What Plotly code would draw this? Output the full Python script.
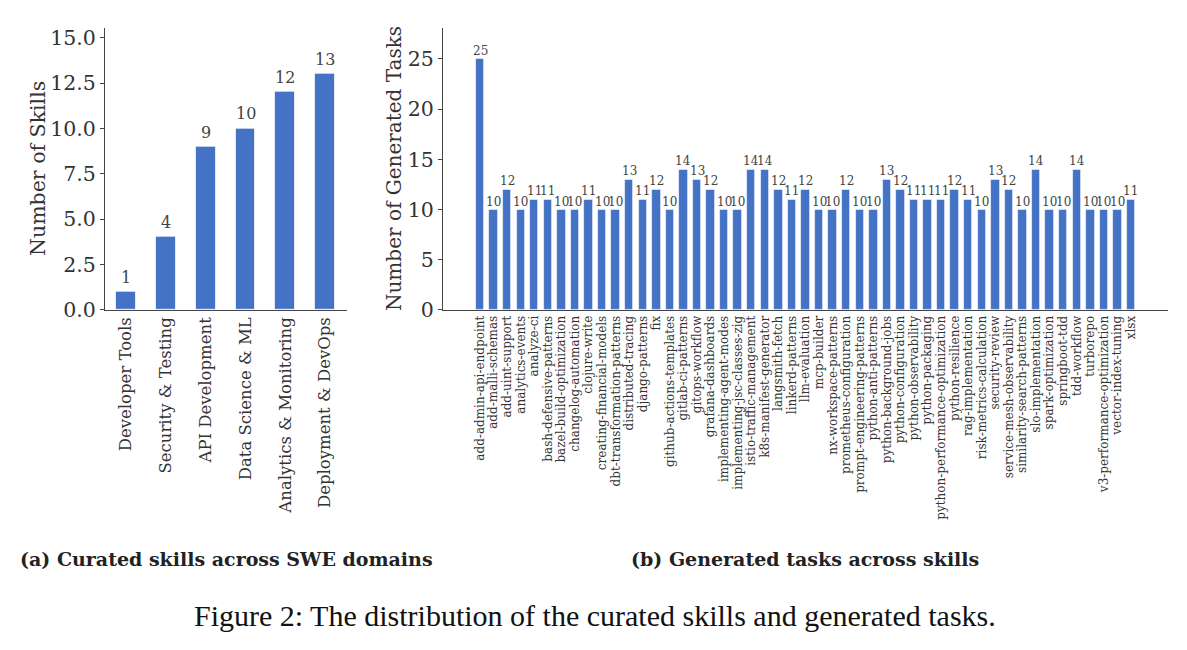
import plotly.graph_objects as go

# ---------------- data ----------------
domains = ["Developer Tools", "Security & Testing", "API Development",
           "Data Science & ML", "Analytics & Monitoring", "Deployment & DevOps"]
skill_counts = [1, 4, 9, 10, 12, 13]

skills = [
    "add-admin-api-endpoint", "add-malli-schemas", "add-uint-support", "analytics-events",
    "analyze-ci", "bash-defensive-patterns", "bazel-build-optimization", "changelog-automation",
    "clojure-write", "creating-financial-models", "dbt-transformation-patterns",
    "distributed-tracing", "django-patterns", "fix", "github-actions-templates",
    "gitlab-ci-patterns", "gitops-workflow", "grafana-dashboards", "implementing-agent-modes",
    "implementing-jsc-classes-zig", "istio-traffic-management", "k8s-manifest-generator",
    "langsmith-fetch", "linkerd-patterns", "llm-evaluation", "mcp-builder",
    "nx-workspace-patterns", "prometheus-configuration", "prompt-engineering-patterns",
    "python-anti-patterns", "python-background-jobs", "python-configuration",
    "python-observability", "python-packaging", "python-performance-optimization",
    "python-resilience", "rag-implementation", "risk-metrics-calculation", "security-review",
    "service-mesh-observability", "similarity-search-patterns", "slo-implementation",
    "spark-optimization", "springboot-tdd", "tdd-workflow", "turborepo",
    "v3-performance-optimization", "vector-index-tuning", "xlsx",
]
task_counts = [
    25, 10, 12, 10, 11, 11, 10, 10, 11, 10, 10, 13, 11, 12, 10, 14, 13, 12, 10, 10,
    14, 14, 12, 11, 12, 10, 10, 12, 10, 10, 13, 12, 11, 11, 11, 12, 11, 10, 13, 12,
    10, 14, 10, 10, 14, 10, 10, 10, 11,
]

left_ticks = [0, 2.5, 5, 7.5, 10, 12.5, 15]
right_ticks = [0, 5, 10, 15, 20, 25]

caption_a = "(a) Curated skills across SWE domains"
caption_b = "(b) Generated tasks across skills"
caption_fig = "Figure 2: The distribution of the curated skills and generated tasks."

# ---------------- style ----------------
W, H = 1187, 650
BLUE = "#4472C4"
SERIF = "DejaVu Serif"
TXT = "#333333"

def px(x):
    return x / W

def py(y):
    # empirical vertical mapping of the rendered page
    return 1 - (y - 0.9) / (0.979 * H)

fig = go.Figure()

fig.add_trace(go.Bar(
    x=list(range(len(domains))), y=skill_counts, width=0.5,
    marker=dict(color=BLUE, line=dict(color="rgba(255,255,255,0.7)", width=1)),
    xaxis="x", yaxis="y", showlegend=False, hoverinfo="skip",
))
fig.add_trace(go.Bar(
    x=list(range(len(skills))), y=task_counts, width=0.62,
    marker=dict(color=BLUE, line=dict(color="rgba(255,255,255,0.7)", width=0.8)),
    xaxis="x2", yaxis="y2", showlegend=False, hoverinfo="skip",
))

annotations = []
for i, v in enumerate(skill_counts):
    annotations.append(dict(x=i, y=v, xref="x", yref="y", text=str(v), showarrow=False,
                            yanchor="bottom", yshift=3,
                            font=dict(family=SERIF, size=16, color="#444444")))
for i, v in enumerate(task_counts):
    annotations.append(dict(x=i, y=v, xref="x2", yref="y2", text=str(v), showarrow=False,
                            yanchor="bottom", yshift=-1,
                            font=dict(family=SERIF, size=12, color="#444444")))

# axis titles
annotations.append(dict(x=px(38), y=py(167), xref="paper", yref="paper", text="Number of Skills",
                        textangle=-90, showarrow=False, xanchor="center", yanchor="middle",
                        font=dict(family=SERIF, size=20.5, color=TXT)))
annotations.append(dict(x=px(394), y=py(168), xref="paper", yref="paper",
                        text="Number of Generated Tasks",
                        textangle=-90, showarrow=False, xanchor="center", yanchor="middle",
                        font=dict(family=SERIF, size=20, color=TXT)))
# sub captions
annotations.append(dict(x=px(226), y=py(558), xref="paper", yref="paper",
                        text="<b>" + caption_a + "</b>", showarrow=False,
                        xanchor="center", yanchor="middle",
                        font=dict(family=SERIF, size=19, color="#222222")))
annotations.append(dict(x=px(805), y=py(558), xref="paper", yref="paper",
                        text="<b>" + caption_b + "</b>", showarrow=False,
                        xanchor="center", yanchor="middle",
                        font=dict(family=SERIF, size=19, color="#222222")))
annotations.append(dict(x=px(595), y=py(615), xref="paper", yref="paper",
                        text=caption_fig, showarrow=False,
                        xanchor="center", yanchor="middle",
                        font=dict(family="Liberation Serif", size=30, color="#111111")))

common_x = dict(showgrid=False, zeroline=False, showline=True, linecolor="#444444",
                linewidth=1, ticks="", tickangle=-90, fixedrange=True)
common_y = dict(showgrid=False, zeroline=False, showline=True, linecolor="#444444",
                linewidth=1, ticks="outside", ticklen=4, tickcolor="#444444",
                fixedrange=True)

fig.update_layout(
    width=W, height=H, margin=dict(l=0, r=0, t=0, b=0),
    paper_bgcolor="white", plot_bgcolor="white",
    bargap=0,
    annotations=annotations,
    xaxis=dict(common_x, domain=[px(105), px(347)], range=[-0.53, 5.55],
               tickmode="array", tickvals=list(range(len(domains))), ticktext=domains,
               tickfont=dict(family=SERIF, size=16.5, color=TXT), anchor="y"),
    yaxis=dict(common_y, domain=[py(308.7), py(26.7)], range=[0, 15.55],
               tickmode="array", tickvals=left_ticks,
               ticktext=["%.1f" % t for t in left_ticks],
               tickfont=dict(family=SERIF, size=20.5, color=TXT), anchor="x"),
    xaxis2=dict(common_x, domain=[px(443), px(1168)], range=[-2.73, 50.73],
                tickmode="array", tickvals=list(range(len(skills))), ticktext=skills,
                tickfont=dict(family=SERIF, size=12, color=TXT), anchor="y2"),
    yaxis2=dict(common_y, domain=[py(309), py(26.7)], range=[0, 28.1],
                tickmode="array", tickvals=right_ticks,
                ticktext=[str(t) for t in right_ticks],
                tickfont=dict(family=SERIF, size=20.5, color=TXT), anchor="x2"),
)

fig.write_html("out.html")
